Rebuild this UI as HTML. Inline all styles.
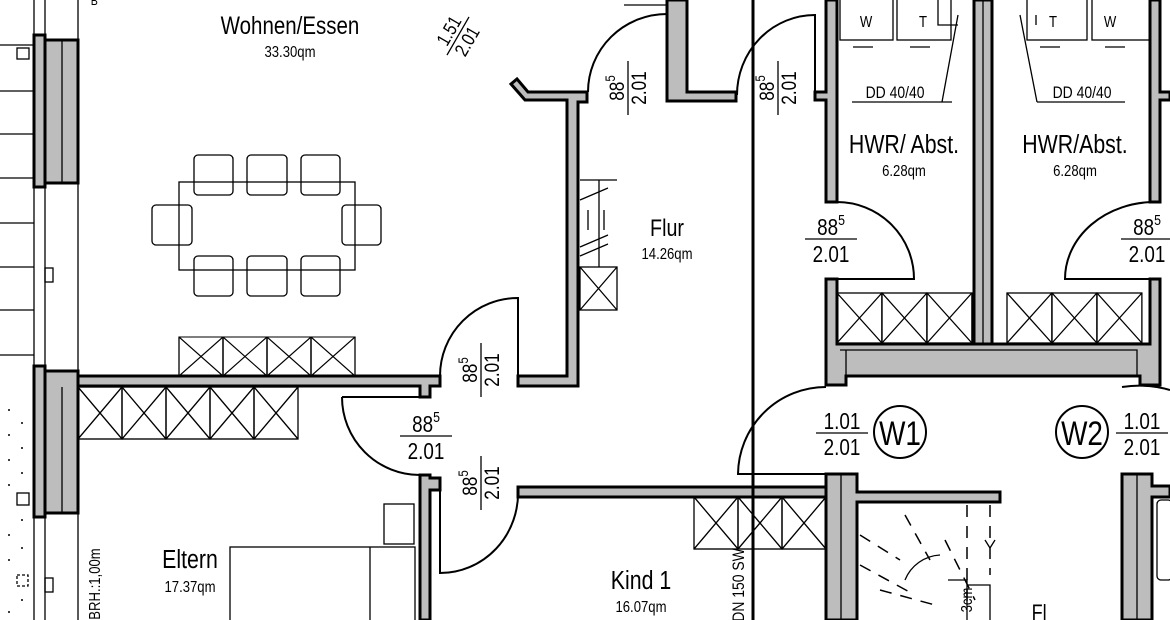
<!DOCTYPE html>
<html><head><meta charset="utf-8"><style>
html,body{margin:0;padding:0;background:#fff}
svg{display:block}
text{font-family:"Liberation Sans Narrow","Liberation Sans",sans-serif;fill:#000;transform-box:fill-box;transform-origin:center;transform:scaleX(0.82)}
.w{fill:#bdbdbd;stroke:#000;stroke-width:3}
.t{fill:none;stroke:#000;stroke-width:1.3}
.m{fill:none;stroke:#000;stroke-width:2}
.d{fill:none;stroke:#000;stroke-width:1.5;stroke-dasharray:12 9}
</style></head><body>
<svg width="1170" height="620" viewBox="0 0 1170 620" xmlns="http://www.w3.org/2000/svg">
<defs>
<g id="xc"><rect x="0" y="0" width="44" height="50" class="t"/><path d="M0 0L44 50M44 0L0 50" class="t"/></g>
</defs>

<!-- left facade lines -->
<line x1="34" y1="0" x2="34" y2="620" class="t"/>
<line x1="45" y1="0" x2="45" y2="620" class="t"/>
<line x1="78" y1="0" x2="78" y2="620" class="t"/>
<g class="t">
<path d="M0 45H34M0 91H34M0 134H34M0 178H34M0 223H34M0 267H34M0 310H34M0 355H34"/>
<rect x="17" y="48" width="12" height="11"/><rect x="17" y="493" width="12" height="12"/>
<rect x="17" y="575" width="11" height="11" stroke-dasharray="3 2"/>
<rect x="45" y="268" width="8" height="14"/><rect x="45" y="578" width="8" height="14"/>
</g>
<g fill="#000">
<circle cx="9" cy="410" r="1"/><circle cx="22" cy="423" r="1"/><circle cx="9" cy="435" r="1"/><circle cx="22" cy="448" r="1"/><circle cx="9" cy="460" r="1"/><circle cx="22" cy="473" r="1"/><circle cx="9" cy="485" r="1"/><circle cx="22" cy="520" r="1"/><circle cx="9" cy="535" r="1"/><circle cx="22" cy="548" r="1"/><circle cx="9" cy="560" r="1"/><circle cx="22" cy="600" r="1"/><circle cx="9" cy="612" r="1"/>
</g>
<!-- windows -->
<rect x="34" y="35" width="11" height="152" class="w"/>
<rect x="45" y="40" width="33" height="143" class="w"/><line x1="62" y1="40" x2="62" y2="183" class="t"/>
<rect x="34" y="366" width="11" height="151" class="w"/>
<rect x="45" y="371" width="33" height="142" class="w"/><line x1="62" y1="387" x2="62" y2="513" class="t"/>
<text x="90" y="5" font-size="13">B</text>

<!-- Wohnen/Essen -->
<text x="290" y="34" font-size="25" text-anchor="middle">Wohnen/Essen</text>
<text x="290" y="57" font-size="16" text-anchor="middle">33.30qm</text>
<g transform="translate(458,36) rotate(-60)">
<text x="0" y="-4" font-size="19" text-anchor="middle">1.51</text>
<line x1="-22" y1="0" x2="22" y2="0" class="t"/>
<text x="0" y="17" font-size="19" text-anchor="middle">2.01</text>
</g>
<!-- table & chairs -->
<rect x="179" y="182" width="176" height="88" class="t"/>
<g class="t">
<rect x="194" y="155" width="39" height="40" rx="4"/><rect x="247" y="155" width="40" height="40" rx="4"/><rect x="301" y="155" width="39" height="40" rx="4"/>
<rect x="194" y="256" width="39" height="40" rx="4"/><rect x="247" y="256" width="40" height="40" rx="4"/><rect x="301" y="256" width="39" height="40" rx="4"/>
<rect x="152" y="205" width="40" height="40" rx="4"/><rect x="342" y="205" width="39" height="40" rx="4"/>
</g>
<!-- cabinets -->
<use href="#xc" transform="translate(179,337) scale(1,0.78)"/><use href="#xc" transform="translate(223,337) scale(1,0.78)"/><use href="#xc" transform="translate(267,337) scale(1,0.78)"/><use href="#xc" transform="translate(311,337) scale(1,0.78)"/>
<use href="#xc" transform="translate(78,387) scale(1,1.04)"/><use href="#xc" transform="translate(122,387) scale(1,1.04)"/><use href="#xc" transform="translate(166,387) scale(1,1.04)"/><use href="#xc" transform="translate(210,387) scale(1,1.04)"/><use href="#xc" transform="translate(254,387) scale(1,1.04)"/>

<!-- walls left part -->
<path class="w" d="M78 376H440V386H430V397H420V386H78Z"/>
<path class="w" d="M420 475H430V478H440V490H430V620H420Z"/>
<path class="w" d="M518 376H567V100H525L511 84L517 79L528 92H587V102H578V386H518Z"/>
<path class="w" d="M518 487H826V497H518Z"/>
<!-- doors -->
<path class="m" d="M518 376V298A78 78 0 0 0 440 376"/>
<path class="m" d="M342 397H420M342 397A78 78 0 0 0 420 475"/>
<path class="m" d="M440 490V573A78 80 0 0 0 518 490"/>
<path class="m" d="M588 92A79 78 0 0 1 667 14V92"/>
<path class="m" d="M737 95A78 80 0 0 1 815 15V92"/>
<path class="m" d="M837 279H914A77 77 0 0 0 837 202"/>
<path class="m" d="M1155 279H1065A90 77 0 0 1 1155 202"/>
<path class="m" d="M826 474H738A88 88 0 0 1 826 387"/>
<path class="m" d="M1122 387A60 30 0 0 1 1170 390"/>

<!-- door labels -->
<g font-size="21">
<g transform="translate(481,370) rotate(-90)"><text x="0" y="-4" text-anchor="middle">88<tspan font-size="14" dy="-9">5</tspan></text><line x1="-27" y1="0" x2="27" y2="0" class="t"/><text x="0" y="18" text-anchor="middle">2.01</text></g>
<g transform="translate(481,483) rotate(-90)"><text x="0" y="-4" text-anchor="middle">88<tspan font-size="14" dy="-9">5</tspan></text><line x1="-27" y1="0" x2="27" y2="0" class="t"/><text x="0" y="18" text-anchor="middle">2.01</text></g>
<g transform="translate(628,88) rotate(-90)"><text x="0" y="-4" text-anchor="middle">88<tspan font-size="14" dy="-9">5</tspan></text><line x1="-27" y1="0" x2="27" y2="0" class="t"/><text x="0" y="18" text-anchor="middle">2.01</text></g>
<g transform="translate(778,88) rotate(-90)"><text x="0" y="-4" text-anchor="middle">88<tspan font-size="14" dy="-9">5</tspan></text><line x1="-27" y1="0" x2="27" y2="0" class="t"/><text x="0" y="18" text-anchor="middle">2.01</text></g>
<g transform="translate(426,436)"><text x="0" y="-4" text-anchor="middle" font-size="23">88<tspan font-size="15" dy="-10">5</tspan></text><line x1="-26" y1="0" x2="26" y2="0" class="t"/><text x="0" y="23" text-anchor="middle" font-size="23">2.01</text></g>
<g transform="translate(831,239)"><text x="0" y="-4" text-anchor="middle" font-size="23">88<tspan font-size="15" dy="-10">5</tspan></text><line x1="-26" y1="0" x2="26" y2="0" class="t"/><text x="0" y="23" text-anchor="middle" font-size="23">2.01</text></g>
<g transform="translate(1147,239)"><text x="0" y="-4" text-anchor="middle" font-size="23">88<tspan font-size="15" dy="-10">5</tspan></text><line x1="-26" y1="0" x2="26" y2="0" class="t"/><text x="0" y="23" text-anchor="middle" font-size="23">2.01</text></g>
<g transform="translate(842,433)"><text x="0" y="-4" text-anchor="middle" font-size="23">1.01</text><line x1="-26" y1="0" x2="26" y2="0" class="t"/><text x="0" y="22" text-anchor="middle" font-size="23">2.01</text></g>
<g transform="translate(1142,433)"><text x="0" y="-4" text-anchor="middle" font-size="23">1.01</text><line x1="-26" y1="0" x2="26" y2="0" class="t"/><text x="0" y="22" text-anchor="middle" font-size="23">2.01</text></g>
</g>
<circle cx="900" cy="432" r="26" class="m"/><text x="900" y="445" font-size="34" text-anchor="middle">W1</text>
<circle cx="1082" cy="432" r="26" class="m"/><text x="1082" y="445" font-size="34" text-anchor="middle">W2</text>

<!-- Flur -->
<g class="t"><path d="M580 180H617M599 180V267M580 200L608 188M580 247L608 235M580 256L608 244M588 210V230M604 210V230"/></g>
<rect x="580" y="267" width="37" height="43" class="t"/><path d="M580 267L617 310M617 267L580 310" class="t"/>
<text x="667" y="236" font-size="24" text-anchor="middle">Flur</text>
<text x="667" y="259" font-size="16" text-anchor="middle">14.26qm</text>
<path class="t" d="M624 5H667"/>
<path class="w" d="M667 0H687V92H736V101H667Z"/>

<!-- heavy line -->
<line x1="753" y1="0" x2="753" y2="620" stroke="#000" stroke-width="3"/>

<!-- HWR walls -->
<path class="w" d="M826 0H837V202H826V100H815V92H826Z"/>
<path class="w" d="M974 0H992V358H974Z"/><line x1="983" y1="0" x2="983" y2="358" class="t"/>
<path class="w" d="M1150 0H1160V92H1170V100H1160V202H1150Z"/>
<path class="w" d="M826 279H837V344H1150V279H1160V385H1140V376H846V385H826Z"/>
<path class="t" d="M840 350H1137V376M846 350V376"/>
<!-- appliances -->
<g class="t">
<rect x="840" y="-2" width="53" height="42"/><rect x="897" y="-2" width="54" height="42"/>
<rect x="1027" y="-2" width="60" height="42"/><rect x="1092" y="-2" width="58" height="42"/>
<path d="M853 47H873M910 47H930M1040 47H1060M1105 47H1125"/>
<path d="M852 102H952M958 15L942 102M1037 102H1125M1020 15L1037 102M938 0V25H958M1036 15V25"/>
</g>
<g font-size="16" text-anchor="middle"><text x="866" y="27">W</text><text x="923" y="27">T</text><text x="1053" y="27">T</text><text x="1110" y="27">W</text></g>
<text x="895" y="98" font-size="17" text-anchor="middle">DD 40/40</text>
<text x="1082" y="98" font-size="17" text-anchor="middle">DD 40/40</text>
<text x="904" y="153" font-size="26" text-anchor="middle">HWR/ Abst.</text>
<text x="904" y="176" font-size="16" text-anchor="middle">6.28qm</text>
<text x="1075" y="153" font-size="26" text-anchor="middle">HWR/Abst.</text>
<text x="1075" y="176" font-size="16" text-anchor="middle">6.28qm</text>
<use href="#xc" transform="translate(837,293) scale(1.02,1)"/><use href="#xc" transform="translate(882,293) scale(1.02,1)"/><use href="#xc" transform="translate(927,293) scale(1.02,1)"/>
<use href="#xc" transform="translate(1007,293) scale(1.02,1)"/><use href="#xc" transform="translate(1052,293) scale(1.02,1)"/><use href="#xc" transform="translate(1097,293) scale(1.02,1)"/>

<!-- lower right -->
<path class="w" d="M826 474H857V492H1000V502H857V620H826Z"/><line x1="841" y1="474" x2="841" y2="620" class="t"/>
<path class="w" d="M1122 474H1152V486H1170V497H1152V620H1122Z"/><line x1="1137" y1="474" x2="1137" y2="620" class="t"/>
<rect x="1157" y="500" width="15" height="80" rx="4" class="t"/>
<g class="d"><path d="M967 505V610M990 505V575M945 540L975 600M905 515L930 560M860 535L900 560M860 565L915 595M880 590L935 605"/></g>
<path class="t" d="M940 555A40 40 0 0 0 905 580M948 580H967V620M967 585H990V620M985 540L990 548L995 540"/>
<g transform="translate(967,600) rotate(-90)"><text x="0" y="5" font-size="16" text-anchor="middle">3cm</text></g>
<text x="1030" y="620" font-size="22">Fl</text>

<!-- Eltern -->
<rect x="384" y="504" width="30" height="40" class="t"/>
<rect x="230" y="547" width="185" height="80" class="t"/><line x1="370" y1="547" x2="370" y2="620" class="t"/>
<text x="190" y="568" font-size="26" text-anchor="middle">Eltern</text>
<text x="190" y="592" font-size="16" text-anchor="middle">17.37qm</text>
<g transform="translate(95,584) rotate(-90)"><text x="0" y="5" font-size="16" text-anchor="middle">BRH.:1,00m</text></g>

<!-- Kind 1 -->
<use href="#xc" transform="translate(694,497) scale(1,1.04)"/><use href="#xc" transform="translate(738,497) scale(1,1.04)"/><use href="#xc" transform="translate(782,497) scale(1,1.04)"/>
<text x="641" y="589" font-size="26" text-anchor="middle">Kind 1</text>
<text x="641" y="612" font-size="16" text-anchor="middle">16.07qm</text>
<g transform="translate(739,585) rotate(-90)"><text x="0" y="5" font-size="17" text-anchor="middle">DN 150 SW</text></g>
</svg>
</body></html>
